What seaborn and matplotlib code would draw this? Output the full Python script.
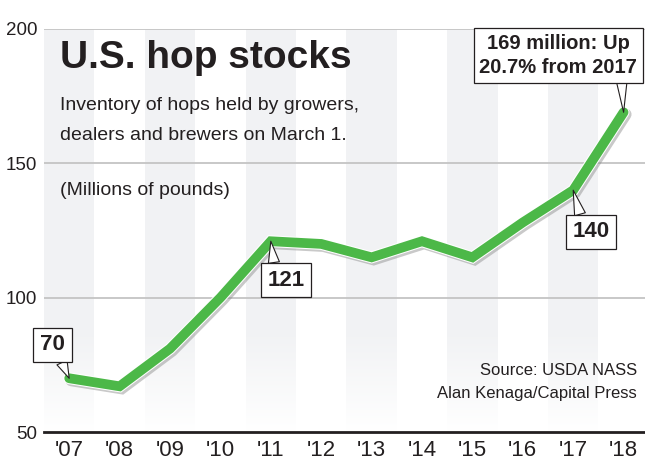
import numpy as np
import pandas as pd
import seaborn as sns
import matplotlib.pyplot as plt
import matplotlib.patheffects as pe
from matplotlib.ticker import FixedLocator

# Chart data
years = ["'07", "'08", "'09", "'10", "'11", "'12", "'13", "'14", "'15", "'16", "'17", "'18"]
stocks = [70, 67, 81, 100, 121, 120, 115, 121, 115, 128, 140, 169]
y_ticks = [50, 100, 150, 200]

# Callout labels: index of point, text, offset in points, where the pointer leaves the box
callouts = [
    (0, "70", (-12, 24), (0.75, 0)),
    (4, "121", (11, -28), (0.2, 1)),
    (10, "140", (13, -30), (0.25, 1)),
    (11, "169 million: Up\n20.7% from 2017", (-47, 41), (0.9, 0)),
]

sns.set_style("white")
plt.rcParams['font.family'] = ['Liberation Sans', 'DejaVu Sans']
ink = '#231f20'
green = '#4cb848'

df = pd.DataFrame({'pos': np.arange(len(years)), 'stocks': stocks})

W, H = 645, 465
fig = plt.figure(figsize=(W / 100, H / 100), dpi=100)
ax = fig.add_axes([44 / W, 1 - 432 / H, 1 - 44 / W, (432 - 29) / H])

xmin, xmax = -0.5, (W - 44) / 50.4 - 0.5

# alternating shaded columns, fading out toward the bottom
for i in range(0, len(years), 2):
    ax.axvspan(i - 0.5, i + 0.5, color='#f1f2f4', lw=0, zorder=0)
grad = np.ones((100, 2, 4))
grad[:, :, 3] = np.linspace(1, 0, 100)[:, None]
ax.imshow(grad, extent=[xmin, xmax, 50, 88], aspect='auto', zorder=0.5, origin='lower')

for v in y_ticks[1:]:
    ax.axhline(v, color='#c4c4c4', lw=1.3, zorder=1)

sns.lineplot(data=df, x='pos', y='stocks', ax=ax, color=green, lw=7, zorder=3,
             solid_joinstyle='miter')
ax.lines[-1].set_path_effects([
    pe.SimpleLineShadow(offset=(1.5, -1.5), shadow_color='#888888', alpha=0.45, linewidth=8.5),
    pe.Stroke(linewidth=8.5, foreground='white'),
    pe.Normal(),
])

for idx, txt, off, rel in callouts:
    multi = '\n' in txt
    ax.annotate(txt, xy=(idx, stocks[idx]), xytext=off, textcoords='offset points',
                ha='center', va='center', fontsize=14.5 if multi else 16,
                fontweight='bold', color=ink, linespacing=1.35, zorder=5,
                bbox=dict(boxstyle='square,pad=0.28' if multi else 'square,pad=0.3',
                          fc='white', ec=ink, lw=0.9),
                arrowprops=dict(arrowstyle='wedge,tail_width=0.5', fc='white', ec=ink,
                                lw=0.8, shrinkA=0, shrinkB=0, relpos=rel))

ax.set_xlim(xmin, xmax)
ax.set_ylim(50, 200)
ax.set_xticks(df['pos'])
ax.set_xticklabels(years)
ax.xaxis.set_minor_locator(FixedLocator(np.arange(0.5, len(years) - 1, 1)))
ax.set_yticks(y_ticks)
ax.tick_params(axis='x', which='major', length=0, pad=6, labelsize=16, labelcolor=ink)
ax.tick_params(axis='x', which='minor', direction='in', length=5, width=1, color=ink)
ax.tick_params(axis='y', length=0, pad=5, labelsize=13.5, labelcolor=ink)
ax.set_xlabel('')
ax.set_ylabel('')
for s in ['top', 'right', 'left']:
    ax.spines[s].set_visible(False)
ax.spines['bottom'].set_color(ink)
ax.spines['bottom'].set_linewidth(2)
ax.spines['bottom'].set_zorder(4)

# headline and notes
fig.text(60 / W, 1 - 68 / H, 'U.S. hop stocks', fontsize=28, fontweight='bold',
         color=ink, va='baseline')
fig.text(60 / W, 1 - 110 / H, 'Inventory of hops held by growers,', fontsize=14,
         color=ink, va='baseline')
fig.text(60 / W, 1 - 140 / H, 'dealers and brewers on March 1.', fontsize=14,
         color=ink, va='baseline')
fig.text(60 / W, 1 - 195 / H, '(Millions of pounds)', fontsize=14, color=ink, va='baseline')
fig.text(637 / W, 1 - 375 / H, 'Source: USDA NASS', fontsize=12, color=ink,
         ha='right', va='baseline')
fig.text(637 / W, 1 - 398 / H, 'Alan Kenaga/Capital Press', fontsize=12, color=ink,
         ha='right', va='baseline')

fig.savefig('out.png', dpi=100)
